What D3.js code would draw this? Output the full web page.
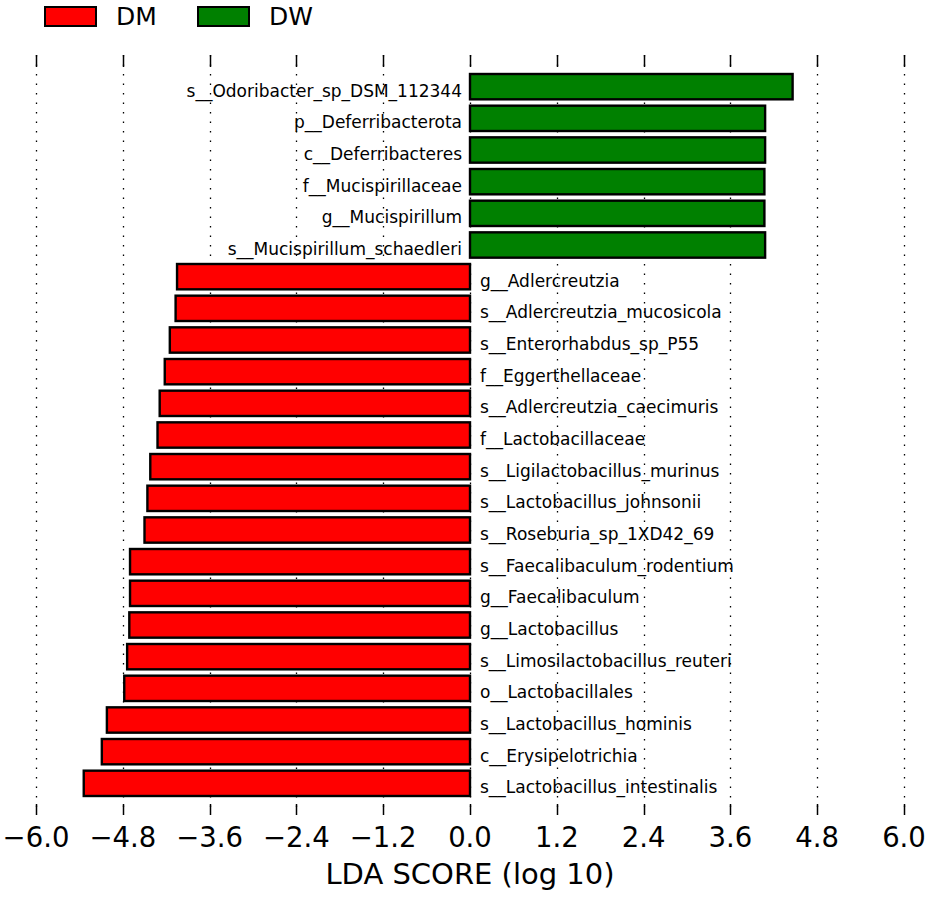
<!DOCTYPE html>
<html>
<head>
<meta charset="utf-8">
<script src="https://cdn.jsdelivr.net/npm/d3@7"></script>
<style>
  body { margin: 0; background: #fff; }
  text { font-family: "DejaVu Sans", sans-serif; fill: #000; }
</style>
</head>
<body>
<svg id="chart" width="935" height="899"></svg>
<script>
// features, top to bottom
const features = [
    "s__Odoribacter_sp_DSM_112344",
    "p__Deferribacterota",
    "c__Deferribacteres",
    "f__Mucispirillaceae",
    "g__Mucispirillum",
    "s__Mucispirillum_schaedleri",
    "g__Adlercreutzia",
    "s__Adlercreutzia_mucosicola",
    "s__Enterorhabdus_sp_P55",
    "f__Eggerthellaceae",
    "s__Adlercreutzia_caecimuris",
    "f__Lactobacillaceae",
    "s__Ligilactobacillus_murinus",
    "s__Lactobacillus_johnsonii",
    "s__Roseburia_sp_1XD42_69",
    "s__Faecalibaculum_rodentium",
    "g__Faecalibaculum",
    "g__Lactobacillus",
    "s__Limosilactobacillus_reuteri",
    "o__Lactobacillales",
    "s__Lactobacillus_hominis",
    "c__Erysipelotrichia",
    "s__Lactobacillus_intestinalis"
];
const groups = ["DW", "DW", "DW", "DW", "DW", "DW",
    "DM", "DM", "DM", "DM", "DM", "DM", "DM", "DM", "DM",
    "DM", "DM", "DM", "DM", "DM", "DM", "DM", "DM"];
// LDA score, negative for DM
const lda = [4.46, 4.08, 4.08, 4.07, 4.07, 4.08,
    -4.05, -4.07, -4.15, -4.22, -4.29, -4.32, -4.42, -4.46, -4.50,
    -4.70, -4.70, -4.71, -4.74, -4.78, -5.02, -5.09, -5.34];
const ticks = [-6.0, -4.8, -3.6, -2.4, -1.2, 0.0, 1.2, 2.4, 3.6, 4.8, 6.0];
const legendNames = ["DM", "DW"];
const colors = { DM: "#ff0000", DW: "#008000" };

const svg = d3.select('#chart');
const plotLeft = 36, plotRight = 904, plotTop = 55, plotBottom = 815;

const x = d3.scaleLinear().domain([-6, 6]).range([plotLeft, plotRight]);
// one empty band above and below, like ylim(-1, n)
const y = d3.scaleLinear().domain([-1, features.length]).range([plotTop, plotBottom]);
const band = y(1) - y(0);
const barH = band * 0.8;

// grid
const grid = svg.append('g');
grid.selectAll('line')
    .data(ticks)
    .enter().append('line')
    .attr('x1', d => Math.round(x(d)) + 0.5)
    .attr('x2', d => Math.round(x(d)) + 0.5)
    .attr('y1', plotTop)
    .attr('y2', plotBottom)
    .style('stroke', '#000')
    .style('stroke-width', 1.3)
    .style('stroke-dasharray', '1.5,8');

// bars
svg.append('g').selectAll('rect')
    .data(lda)
    .enter().append('rect')
    .attr('x', d => x(Math.min(0, d)))
    .attr('width', d => Math.abs(x(d) - x(0)))
    .attr('y', (d, i) => y(i) - barH / 2)
    .attr('height', barH)
    .style('fill', (d, i) => colors[groups[i]])
    .style('stroke', '#000')
    .style('stroke-width', 2.4);

// feature labels on the opposite side of zero
svg.append('g').selectAll('text')
    .data(features)
    .enter().append('text')
    .attr('x', (d, i) => lda[i] > 0 ? x(0) - 8 : x(0) + 10)
    .attr('y', (d, i) => y(i) + 10)
    .attr('text-anchor', (d, i) => lda[i] > 0 ? 'end' : 'start')
    .style('font-size', '17px')
    .text(d => d);

// inward ticks, top and bottom
const tickG = svg.append('g');
[[plotTop, plotTop + 12], [plotBottom - 11, plotBottom]].forEach(function(p) {
    tickG.append('g').selectAll('line')
        .data(ticks)
        .enter().append('line')
        .attr('x1', d => Math.round(x(d)) + 0.5)
        .attr('x2', d => Math.round(x(d)) + 0.5)
        .attr('y1', p[0])
        .attr('y2', p[1])
        .style('stroke', '#000')
        .style('stroke-width', 1.5);
});

// tick labels
const fmt = d3.format('.1f');
svg.append('g').selectAll('text')
    .data(ticks)
    .enter().append('text')
    .attr('x', d => x(d))
    .attr('y', 847)
    .attr('text-anchor', 'middle')
    .style('font-size', '27.5px')
    .text(d => fmt(d));

svg.append('text')
    .attr('x', x(0))
    .attr('y', 884)
    .attr('text-anchor', 'middle')
    .style('font-size', '29px')
    .text('LDA SCORE (log 10)');

// legend
const leg = svg.append('g').selectAll('g')
    .data(legendNames)
    .enter().append('g')
    .attr('transform', (d, i) => 'translate(' + (45 + i * 153) + ',7)');
leg.append('rect')
    .attr('width', 51)
    .attr('height', 19)
    .style('fill', d => colors[d])
    .style('stroke', '#000')
    .style('stroke-width', 2);
leg.append('text')
    .attr('x', 71)
    .attr('y', 18)
    .style('font-size', '25px')
    .text(d => d);
</script>
</body>
</html>
